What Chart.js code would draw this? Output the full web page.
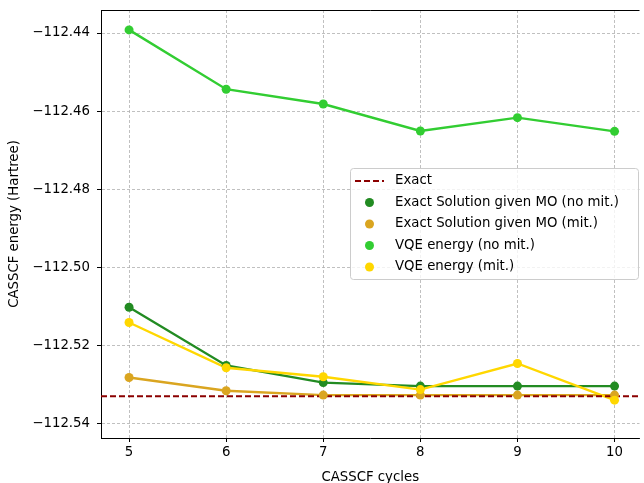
<!DOCTYPE html>
<html>
<head>
<meta charset="utf-8">
<script src="https://cdn.jsdelivr.net/npm/chart.js@4"></script>
<style>
  html, body { margin: 0; padding: 0; background: #fff; overflow: hidden; }
  #wrap { width: 644px; height: 483px; position: relative; }
</style>
</head>
<body>
<div id="wrap"><canvas id="casscfChart"></canvas></div>
<script>
// CASSCF cycles on the x axis
const cycles = [5, 6, 7, 8, 9, 10];

// energies in Hartree
const exactEnergy = -112.5331;
const exactGivenMoNoMit = [-112.5103, -112.5252, -112.5296, -112.5305, -112.5305, -112.5305];
const exactGivenMoMit = [-112.5283, -112.5317, -112.5328, -112.5328, -112.5328, -112.5328];
const vqeNoMit = [-112.4392, -112.4544, -112.4582, -112.4651, -112.4617, -112.4652];
const vqeMit = [-112.5142, -112.5258, -112.5281, -112.5314, -112.5247, -112.5341];

const xTicks = [5, 6, 7, 8, 9, 10];
const yTicks = [-112.54, -112.52, -112.50, -112.48, -112.46, -112.44];

const X_MIN = 4.711, X_MAX = 10.257;
const Y_MIN = -112.5438, Y_MAX = -112.4341;

const FONT = 'DejaVu Sans';

const series = [
  { label: 'Exact Solution given MO (no mit.)', color: '#228B22', values: exactGivenMoNoMit },
  { label: 'Exact Solution given MO (mit.)', color: '#DAA520', values: exactGivenMoMit },
  { label: 'VQE energy (no mit.)', color: '#32CD32', values: vqeNoMit },
  { label: 'VQE energy (mit.)', color: '#FFD700', values: vqeMit }
];

function toPoints(values) {
  return cycles.map((c, i) => ({ x: c, y: values[i] }));
}

// Chart.js draws the first dataset on top, so markers go first,
// then the exact reference line, then the connecting lines.
const markerSets = series.slice().reverse().map(s => ({
  label: s.label,
  data: toPoints(s.values),
  showLine: false,
  pointRadius: 4.5,
  pointBackgroundColor: s.color,
  pointBorderWidth: 0,
  borderColor: s.color
}));

const exactSet = {
  label: 'Exact',
  data: [{ x: X_MIN, y: exactEnergy }, { x: X_MAX, y: exactEnergy }],
  borderColor: '#8B0000',
  borderWidth: 2,
  borderDash: [6, 3],
  pointRadius: 0,
  showLine: true
};

const lineSets = series.slice().reverse().map(s => ({
  label: s.label + ' line',
  data: toPoints(s.values),
  showLine: true,
  borderColor: s.color,
  borderWidth: 2.4,
  pointRadius: 0,
  tension: 0
}));

// top spine plus the legend box
const framePlugin = {
  id: 'frame',
  afterDraw(chart) {
    const { ctx, chartArea } = chart;
    ctx.save();
    ctx.strokeStyle = '#000';
    ctx.lineWidth = 1;
    ctx.beginPath();
    ctx.moveTo(chartArea.left, chartArea.top + 0.5);
    ctx.lineTo(chartArea.right, chartArea.top + 0.5);
    ctx.stroke();

    const bx = 350, by = 168, bw = 288, bh = 111, r = 3;
    ctx.beginPath();
    ctx.roundRect(bx + 0.5, by + 0.5, bw, bh, r);
    ctx.fillStyle = 'rgba(255,255,255,0.8)';
    ctx.fill();
    ctx.strokeStyle = '#cccccc';
    ctx.stroke();

    const rowY = [181, 202.5, 224, 245.5, 267];
    ctx.font = '13.3px "' + FONT + '"';
    ctx.textBaseline = 'middle';
    ctx.fillStyle = '#000';

    ctx.strokeStyle = '#8B0000';
    ctx.lineWidth = 2;
    ctx.setLineDash([6, 3]);
    ctx.beginPath();
    ctx.moveTo(355, rowY[0]);
    ctx.lineTo(384, rowY[0]);
    ctx.stroke();
    ctx.setLineDash([]);
    ctx.fillText('Exact', 395, rowY[0]);

    series.forEach((s, i) => {
      const y = rowY[i + 1];
      ctx.beginPath();
      ctx.arc(369.5, y, 4.5, 0, Math.PI * 2);
      ctx.fillStyle = s.color;
      ctx.fill();
      ctx.fillStyle = '#000';
      ctx.fillText(s.label, 395, y);
    });
    ctx.restore();
  }
};

const fmt = v => '\u2212' + Math.abs(v).toFixed(2);

new Chart(document.getElementById('casscfChart'), {
  type: 'scatter',
  data: { datasets: [...markerSets, exactSet, ...lineSets] },
  options: {
    responsive: true,
    maintainAspectRatio: false,
    animation: false,
    layout: { padding: { top: 10, right: 0, left: 0, bottom: 0 } },
    plugins: {
      legend: { display: false },
      tooltip: { enabled: false }
    },
    scales: {
      x: {
        type: 'linear',
        min: X_MIN,
        max: X_MAX,
        afterBuildTicks: scale => { scale.ticks = xTicks.map(v => ({ value: v })); },
        afterFit: scale => {
          scale.height = 45;
          scale.paddingLeft = 0;
          scale.paddingRight = 0;
        },
        ticks: {
          color: '#000',
          font: { family: FONT, size: 13.3 },
          padding: 3,
          maxRotation: 0
        },
        grid: {
          color: '#b0b0b0',
          lineWidth: 0.8,
          tickLength: 4,
          tickColor: '#000',
          tickWidth: 1
        },
        border: { color: '#000', width: 1, dash: [3, 2] },
        title: {
          display: true,
          text: 'CASSCF cycles',
          color: '#000',
          font: { family: FONT, size: 13.3 },
          padding: { top: 0, bottom: -3 }
        }
      },
      y: {
        type: 'linear',
        min: Y_MIN,
        max: Y_MAX,
        afterBuildTicks: scale => { scale.ticks = yTicks.map(v => ({ value: v })); },
        afterFit: scale => {
          scale.width = 101;
          scale.paddingTop = 0;
          scale.paddingBottom = 0;
        },
        ticks: {
          color: '#000',
          font: { family: FONT, size: 13.3 },
          padding: 7,
          callback: v => fmt(v)
        },
        grid: {
          color: '#b0b0b0',
          lineWidth: 0.8,
          tickLength: 4,
          tickColor: '#000',
          tickWidth: 1
        },
        border: { color: '#000', width: 1, dash: [3, 2] },
        title: {
          display: true,
          text: 'CASSCF energy (Hartree)',
          color: '#000',
          font: { family: FONT, size: 13.3 },
          padding: { top: 7, bottom: 0 }
        }
      }
    }
  },
  plugins: [framePlugin]
});
</script>
</body>
</html>
